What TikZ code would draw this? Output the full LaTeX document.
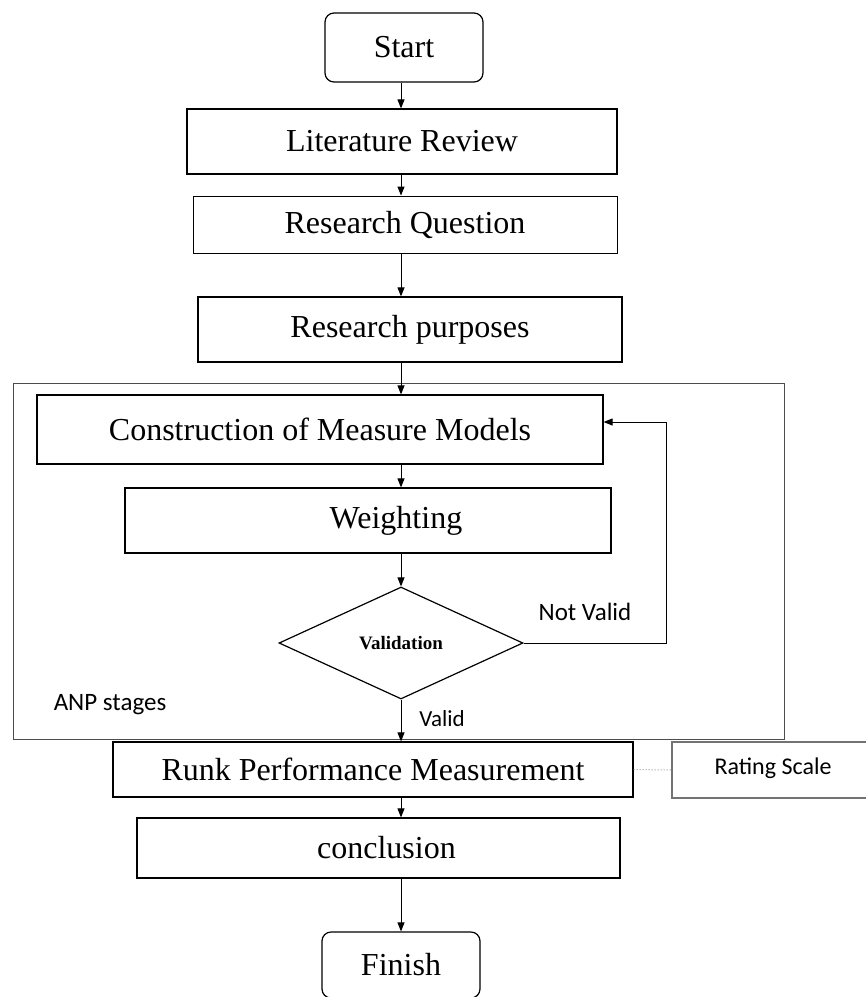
\documentclass[tikz,border=0pt]{standalone}
\usepackage{fontspec}
\setmainfont{Liberation Serif}
\newfontfamily\calib{Carlito}
\usetikzlibrary{shapes.geometric,arrows.meta}
\tikzset{>={Triangle[length=9pt,width=7pt]}}
\tikzset{
  stepbox/.style={draw,line width=1.2pt,inner sep=0pt,font=\fontsize{32}{38}\selectfont},
  endbox/.style={stepbox,rounded corners=9pt},
  flow/.style={->,line width=1pt},
  note/.style={font=\calib\fontsize{25}{30}\selectfont}
}

\begin{document}
\begin{tikzpicture}[x=1pt,y=-1pt]
    \useasboundingbox (0,0) rectangle (866,997);
    \coordinate (axis) at (401,0);
    % ANP frame
    \draw[line width=1pt,draw=black!70] (13,383) rectangle (784,739);
    \node[endbox,minimum width=158pt,minimum height=69pt] (start) at (404,47.5) {Start};
    \node[stepbox,minimum width=430pt,minimum height=65pt] (lit) at (402,141.5) {Literature Review};
    \node[stepbox,line width=0.9pt,minimum width=424pt,minimum height=57pt] (rq) at (405,224.5) {Research Question};
    \node[stepbox,minimum width=424pt,minimum height=65pt] (rp) at (410,329.5) {Research purposes};
    \node[stepbox,minimum width=566pt,minimum height=69pt] (constr) at (320,429.5) {Construction of Measure Models};
    \node[stepbox,minimum width=486pt,minimum height=65pt] (weight) at (368,520.5) {\hspace*{56pt}Weighting};
    \node[stepbox,diamond,minimum width=244pt,minimum height=112pt,font=\bfseries\fontsize{19}{23}\selectfont] (valid) at (401,643) {Validation};
    \node[stepbox,minimum width=520pt,minimum height=55pt] (runk) at (373,769.5) {Runk Performance Measurement};
    \node[draw=black!55,line width=1.3pt,minimum width=204pt,minimum height=56pt,inner sep=0pt] (rating) at (774,770) {};
    \node[note,font=\calib\fontsize{24}{29}\selectfont] (ratingtxt) at (773,768) {Rating Scale};
    \node[stepbox,minimum width=483pt,minimum height=60pt] (concl) at (378.5,848) {\hspace*{16pt}conclusion};
    \node[endbox,minimum width=158pt,minimum height=66pt] (finish) at (401,965) {Finish};
    % labels
    \node[note] (notvalid) at (585,612) {Not Valid};
    \node[note,font=\calib\fontsize{23}{28}\selectfont] (valtxt) at (442,719) {Valid};
    \node[note] (anp) at (110,705) {ANP stages};
    % connectors
    \draw[flow] (axis |- start.south) -- (axis |- lit.north);
    \draw[flow] (axis |- lit.south) -- (axis |- rq.north);
    \draw[flow] (axis |- rq.south) -- (axis |- rp.north);
    \draw[flow] (axis |- rp.south) -- (axis |- constr.north);
    \draw[flow] (axis |- constr.south) -- (axis |- weight.north);
    \draw[flow] (axis |- weight.south) -- (valid.north);
    \draw[flow] (valid.south) -- (valid.south |- runk.north);
    \draw[flow] (axis |- runk.south) -- (axis |- concl.north);
    \draw[flow] (axis |- concl.south) -- (axis |- finish.north);
    \draw[flow] (valid.east) -- ++(143,0) |- ([yshift=7.5pt]constr.east);
    \draw[dotted,draw=black!40,line width=1pt] (runk.east) -- (rating.west);
\end{tikzpicture}
\end{document}
